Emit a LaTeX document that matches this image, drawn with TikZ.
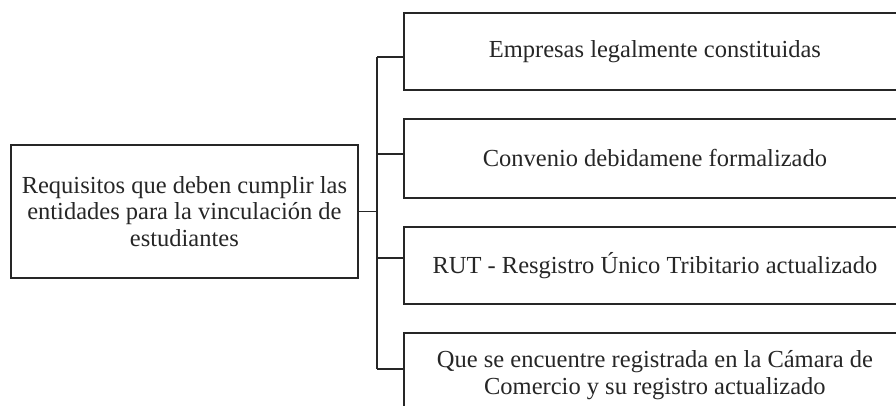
\documentclass[tikz,border=0pt]{standalone}
\usepackage{fontspec}
\setmainfont{Liberation Serif}
\tikzset{
  box/.style={draw=black!85, inner sep=0pt, align=center, anchor=north west,
    font=\fontsize{24.5}{26.5}\selectfont, text=black!85},
  link/.style={draw=black!85}
}
\begin{document}
\begin{tikzpicture}[x=1pt,y=-1pt,line width=1.8pt]
\useasboundingbox (0,0) rectangle (896,406);
\clip (0,0) rectangle (896,406);
\node[box, minimum width=347pt, minimum height=133pt] (root) at (10,144)
  {Requisitos que deben cumplir las\\entidades para la vinculación de\\estudiantes};
\node[box, minimum width=502pt, minimum height=77pt] (b1) at (403,12)
  {Empresas legalmente constituidas};
\node[box, minimum width=502pt, minimum height=79pt] (b2) at (403,118)
  {Convenio debidamene formalizado};
\node[box, minimum width=502pt, minimum height=77pt] (b3) at (403,226)
  {RUT - Resgistro Único Tribitario actualizado};
\node[box, minimum width=502pt, minimum height=84pt] (b4) at (403,332)
  {Que se encuentre registrada en la Cámara de\\Comercio y su registro actualizado};
\coordinate (j1) at (377,57);
\coordinate (j2) at (377,154);
\coordinate (j3) at (377,258);
\coordinate (j4) at (377,369);
\draw[link] (root.east) -- (root.east -| j1);
\draw[link] (j1) -- (j4);
\draw[link] (j1) -- (j1 -| b1.west);
\draw[link] (j2) -- (j2 -| b2.west);
\draw[link] (j3) -- (j3 -| b3.west);
\draw[link] (j4) -- (j4 -| b4.west);
\end{tikzpicture}
\end{document}
